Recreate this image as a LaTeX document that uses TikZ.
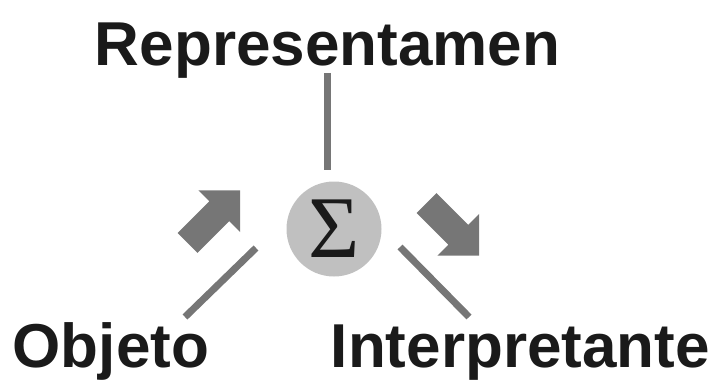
\documentclass[tikz,border=0pt]{standalone}
\usepackage{fontspec}
\setmainfont{Liberation Sans}
\newfontfamily\sigmafont{Liberation Serif}
\usepackage{xcolor}
\definecolor{inkblack}{RGB}{26,26,26}
\definecolor{strokegray}{RGB}{118,118,118}
\definecolor{discgray}{RGB}{192,192,192}
\usepackage{tikz}

\begin{document}
\begin{tikzpicture}[x=1pt,y=1pt,
    termtext/.style={inner sep=0pt,text=inkblack,font=\fontsize{62}{62}\selectfont\bfseries},
    stroke/.style={draw=strokegray,line width=7pt},
    blockarrow/.pic={\fill[strokegray] (0,14) -- (45,14) -- (45,29.5) -- (74.5,0) -- (45,-29.5) -- (45,-14) -- (0,-14) -- cycle;}]
        \useasboundingbox (0,0) rectangle (714,381);
        \node[termtext,anchor=base] (rep) at (327.5,316) {Representamen};
        \node[termtext,anchor=base west] (obj) at (12.5,14) {Objeto};
        \node[termtext,anchor=base east] (int) at (710,14) {Interpretante};
        \node[circle,fill=discgray,inner sep=0pt,minimum size=95pt,text=inkblack,font=\sigmafont\fontsize{88}{88}\selectfont] (sig) at (334,152) {Σ};
        \coordinate (rtop) at (327,308);
        \coordinate (rbot) at (327,211);
        \coordinate (otop) at (256,133);
        \coordinate (obot) at (185,64);
        \coordinate (itop) at (400,134);
        \coordinate (ibot) at (469,64);
        \draw[stroke] (rtop) -- (rbot);
        \draw[stroke] (obot) -- (otop);
        \draw[stroke] (itop) -- (ibot);
        \pic[rotate=45] at (187.5,138) {blockarrow};
        \pic[rotate=-45] at (426.5,178) {blockarrow};
        
    \end{tikzpicture}
\end{document}
